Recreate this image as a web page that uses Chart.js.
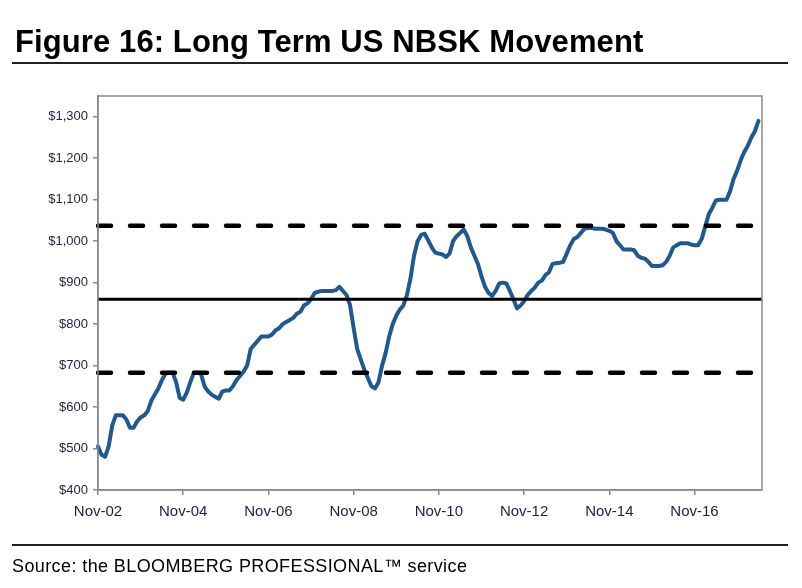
<!DOCTYPE html>
<html>
<head>
<meta charset="utf-8">
<script src="https://cdn.jsdelivr.net/npm/chart.js@4/dist/chart.umd.min.js"></script>
<style>
  html, body { margin: 0; padding: 0; background: #fff; }
  #wrap { position: relative; width: 802px; height: 588px; overflow: hidden; font-family: "Liberation Sans", Arial, sans-serif; }
  #title { position: absolute; left: 15px; top: 24px; font-size: 31px; font-weight: bold; color: #000; white-space: nowrap; letter-spacing: 0.1px; }
  #rule1 { position: absolute; left: 12px; top: 62px; width: 776px; height: 2px; background: #222; }
  #rule2 { position: absolute; left: 12px; top: 544px; width: 776px; height: 2px; background: #222; }
  #source { position: absolute; left: 12px; top: 556px; font-size: 18px; color: #000; white-space: nowrap; letter-spacing: 0.4px; }
  #cv { position: absolute; left: 0; top: 0; }
</style>
</head>
<body>
<div id="wrap">
  <canvas id="cv" width="802" height="588"></canvas>
  <div id="title">Figure 16: Long Term US NBSK Movement</div>
  <div id="rule1"></div>
  <div id="rule2"></div>
  <div id="source">Source: the BLOOMBERG PROFESSIONAL™ service</div>
</div>
<script>
// Monthly categories Nov-02 .. Jun-18
const MONTHS = ['Jan','Feb','Mar','Apr','May','Jun','Jul','Aug','Sep','Oct','Nov','Dec'];
const labels = [];
for (let y = 2002, m = 10; !(y === 2018 && m === 6); ) {
  labels.push(MONTHS[m] + '-' + String(y % 100).padStart(2, '0'));
  m++; if (m === 12) { m = 0; y++; }
}

// US NBSK price, USD/t, Nov-02 .. May-18
const nbsk = [
  505, 485, 480, 505, 555, 580, 580, 580, 570, 550, 550, 565,
  575, 580, 590, 615, 630, 645, 665, 680, 683, 683, 660, 622,
  618, 635, 660, 683, 683, 680, 650, 638, 630, 625, 620, 637,
  640, 640, 650, 665, 675, 685, 700, 740, 750, 760, 770, 770,
  770, 775, 785, 790, 800, 805, 810, 815, 825, 830, 845, 850,
  860, 875, 878, 880, 880, 880, 880, 882, 890, 880, 870, 845,
  790, 740, 715, 690, 670, 650, 645, 660, 700, 730, 770, 800,
  820, 835, 845, 870, 910, 965, 1000, 1015, 1018, 1002, 985, 972,
  970, 968, 962, 970, 1000, 1012, 1020, 1028, 1012, 985, 965, 945,
  915, 890, 875, 868, 880, 898, 900, 898, 880, 860, 838, 845,
  855, 870, 880, 888, 900, 905, 918, 925, 945, 947, 948, 950,
  970, 990, 1005, 1010, 1020, 1030, 1032, 1032, 1030, 1030, 1030, 1028,
  1025, 1020, 1000, 990, 980, 980, 980, 978, 965, 960, 958, 950,
  940, 940, 940, 942, 950, 965, 985, 990, 995, 995, 995, 992,
  990, 990, 1005, 1035, 1065, 1080, 1098, 1100, 1100, 1100, 1120, 1150,
  1170, 1195, 1215, 1230, 1250, 1265, 1290
];

// Long-term average and +/- one standard deviation
const avgValue = 860;
const upperValue = 1037;
const lowerValue = 683;

const yTicks = [400, 500, 600, 700, 800, 900, 1000, 1100, 1200, 1300];
const xTickLabels = ['Nov-02','Nov-04','Nov-06','Nov-08','Nov-10','Nov-12','Nov-14','Nov-16'];

const avgLine = labels.map(() => avgValue);
const upperLine = labels.map(() => upperValue);
const lowerLine = labels.map(() => lowerValue);

const frame = {
  id: 'frame',
  afterDraw(chart) {
    const a = chart.chartArea, c = chart.ctx;
    c.save();
    c.strokeStyle = '#8a8a8a';
    c.lineWidth = 1.5;
    c.strokeRect(a.left, a.top, a.right - a.left, a.bottom - a.top);
    c.restore();
  }
};

const fam = '"Liberation Sans", Arial, sans-serif';
const tickColor = '#1e2040';

new Chart(document.getElementById('cv'), {
  type: 'line',
  data: {
    labels: labels,
    datasets: [
      { data: nbsk, borderColor: '#22598d', borderWidth: 4, pointRadius: 0, tension: 0,
        borderJoinStyle: 'round', borderCapStyle: 'round', order: 2 },
      { data: avgLine, borderColor: '#000', borderWidth: 3, pointRadius: 0, order: 1 },
      { data: upperLine, borderColor: '#000', borderWidth: 4.5, pointRadius: 0, borderDash: [13, 19],
        borderCapStyle: 'round', order: 1 },
      { data: lowerLine, borderColor: '#000', borderWidth: 4.5, pointRadius: 0, borderDash: [13, 19],
        borderCapStyle: 'round', order: 1 }
    ]
  },
  options: {
    responsive: false,
    animation: false,
    events: [],
    layout: { padding: { left: 0, right: 40, top: 96, bottom: 68 } },
    plugins: { legend: { display: false }, tooltip: { enabled: false } },
    scales: {
      x: {
        type: 'category',
        offset: false,
        afterFit(s) { s.height = 30; },
        grid: { display: true, drawOnChartArea: false, drawTicks: true, tickLength: 5, color: '#8a8a8a', lineWidth: 1.5 },
        border: { display: true, color: '#8a8a8a', width: 1.5 },
        ticks: {
          autoSkip: false, maxRotation: 0, minRotation: 0, padding: 8,
          font: { family: fam, size: 15 }, color: tickColor,
          callback(v, i) { const l = labels[i]; return xTickLabels.includes(l) ? l : null; }
        }
      },
      y: {
        min: 400, max: 1350,
        afterFit(s) { s.width = 98; },
        afterBuildTicks(s) { s.ticks = yTicks.map(v => ({ value: v })); },
        grid: { display: true, drawOnChartArea: false, drawTicks: true, tickLength: 5, color: '#8a8a8a', lineWidth: 1.5 },
        border: { display: true, color: '#8a8a8a', width: 1.5 },
        ticks: {
          padding: 5, font: { family: fam, size: 13 }, color: tickColor,
          callback(v) { return '$' + v.toLocaleString('en-US'); }
        }
      }
    }
  },
  plugins: [frame]
});
</script>
</body>
</html>
